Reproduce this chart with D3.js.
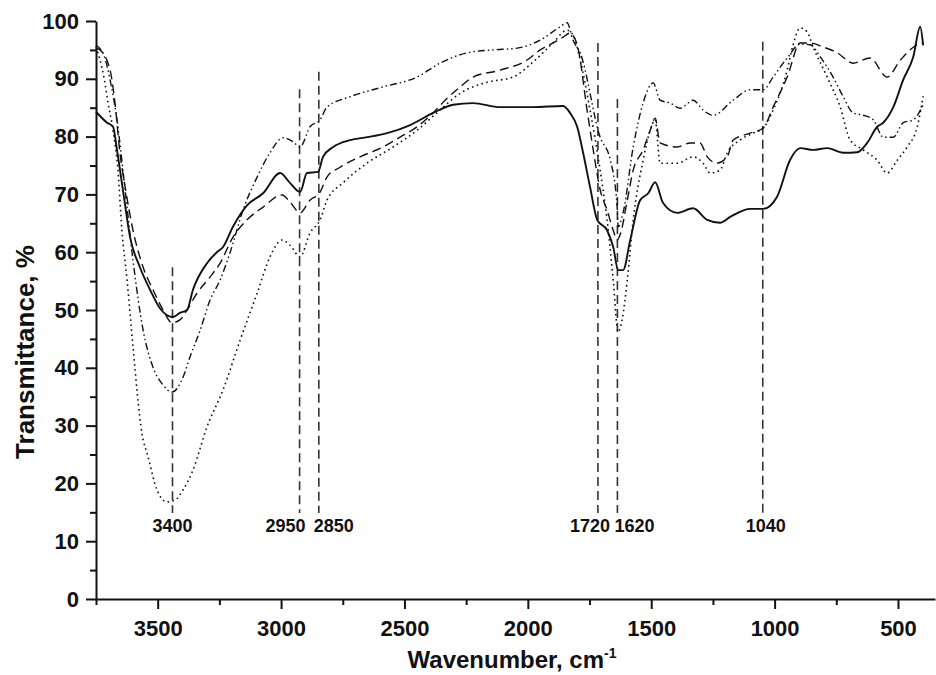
<!DOCTYPE html>
<html><head><meta charset="utf-8">
<script src="https://cdn.jsdelivr.net/npm/d3@7/dist/d3.min.js"></script>
<style>
body{margin:0;background:#fff;}
svg{display:block;}
text{font-family:"Liberation Sans",Arial,sans-serif;font-weight:bold;fill:#111;}
</style>
</head><body>
<svg id="chart" width="936" height="675"></svg>
<script>
// ---- data (wavenumber cm-1, transmittance %) ----
const solidSeries = [[3750,84.3],[3705,82.4],[3681,81.7],[3665,77.7],[3641,70.8],[3612,62.6],[3572,57.4],[3531,53.5],[3491,50.3],[3462,49.1],[3438,48.8],[3410,49.5],[3381,50.0],[3357,53.5],[3300,58.1],[3260,60.0],[3235,60.9],[3195,64.4],[3138,68.1],[3073,70.2],[3004,73.7],[2964,72.0],[2923,70.4],[2895,73.7],[2850,73.9],[2830,76.5],[2789,78.2],[2720,79.4],[2651,79.9],[2570,80.6],[2477,82.0],[2384,84.1],[2303,85.5],[2222,85.8],[2112,85.1],[1979,85.1],[1857,85.3],[1829,84.1],[1800,81.7],[1776,77.2],[1748,71.3],[1719,65.6],[1679,63.8],[1654,60.9],[1634,56.9],[1614,56.9],[1585,62.1],[1545,69.0],[1512,70.2],[1484,72.1],[1452,68.5],[1395,66.8],[1330,67.6],[1273,65.6],[1221,65.1],[1180,66.1],[1099,67.5],[1046,67.5],[990,69.6],[937,76.0],[896,78.0],[844,77.7],[787,78.0],[722,77.2],[665,77.3],[625,78.9],[584,81.7],[560,82.4],[519,85.1],[479,89.8],[438,93.8],[410,99.0],[398,95.8]];

const dashSeries = [[3750,95.3],[3734,95.0],[3693,91.5],[3673,85.8],[3653,77.2],[3632,71.3],[3600,63.8],[3559,57.4],[3519,53.5],[3478,50.0],[3442,47.8],[3410,48.3],[3381,50.0],[3341,52.9],[3288,55.7],[3247,58.1],[3195,62.6],[3138,65.6],[3073,67.8],[2996,69.9],[2964,68.7],[2923,66.8],[2883,69.0],[2842,70.4],[2814,73.0],[2761,74.7],[2680,76.5],[2587,78.2],[2518,79.9],[2449,81.7],[2384,84.1],[2335,86.3],[2274,88.6],[2222,90.3],[2112,91.5],[2003,93.25],[1950,95.0],[1898,96.2],[1857,97.2],[1829,97.9],[1800,95.9],[1760,84.6],[1735,77.7],[1707,70.8],[1679,67.3],[1654,63.8],[1638,62.1],[1626,63.0],[1597,69.0],[1573,74.2],[1533,77.7],[1504,81.1],[1484,83.2],[1464,78.9],[1395,78.2],[1342,78.9],[1302,78.9],[1273,76.5],[1233,75.4],[1192,76.5],[1168,79.4],[1099,80.6],[1046,81.5],[1006,85.1],[949,90.3],[896,96.2],[856,96.2],[803,95.5],[746,94.5],[682,92.7],[613,93.6],[544,90.3],[491,93.2],[422,95.9],[402,96.2]];

const dashDotSeries = [[3750,95.8],[3718,94.1],[3693,89.8],[3665,82.9],[3632,70.8],[3600,58.6],[3559,46.5],[3519,40.1],[3478,37.0],[3442,35.8],[3397,38.4],[3369,41.9],[3328,46.5],[3288,51.7],[3247,55.2],[3207,59.9],[3154,67.3],[3097,73.0],[3045,77.2],[2992,79.8],[2951,79.1],[2923,78.2],[2883,81.7],[2842,82.9],[2814,85.1],[2720,86.9],[2587,88.6],[2449,90.3],[2356,92.7],[2246,94.5],[2141,95.0],[2043,95.3],[1950,96.7],[1869,99.0],[1841,99.7],[1817,96.7],[1788,94.5],[1707,79.9],[1666,76.0],[1638,67.8],[1634,64.4],[1614,66.8],[1573,78.2],[1533,85.8],[1492,89.3],[1464,86.3],[1423,85.8],[1382,84.9],[1330,86.3],[1290,84.6],[1249,83.7],[1168,86.3],[1099,88.1],[1046,88.1],[1006,90.3],[949,93.6],[896,96.0],[856,95.9],[815,93.8],[763,90.3],[722,86.9],[682,84.1],[641,83.7],[600,82.9],[560,79.9],[519,79.9],[479,82.4],[438,82.9],[398,85.5]];

const dottedSeries = [[3750,95.5],[3734,93.3],[3718,90.3],[3701,85.8],[3681,81.1],[3661,74.2],[3645,63.8],[3624,55.2],[3600,43.6],[3564,28.7],[3539,24.6],[3503,18.9],[3462,16.8],[3430,17.1],[3397,18.9],[3357,22.3],[3300,29.8],[3235,36.2],[3166,44.8],[3097,52.9],[3045,59.2],[2996,62.1],[2964,61.2],[2923,59.2],[2883,63.3],[2842,65.6],[2814,69.0],[2749,72.0],[2652,75.4],[2546,78.2],[2449,81.1],[2356,84.6],[2274,87.5],[2165,89.4],[2060,90.3],[1979,92.9],[1898,96.2],[1841,98.4],[1817,97.6],[1788,93.3],[1748,84.6],[1707,74.2],[1679,65.6],[1654,55.2],[1634,46.2],[1618,48.3],[1597,55.2],[1573,65.6],[1533,75.9],[1504,81.1],[1484,82.9],[1464,75.4],[1395,75.4],[1330,76.5],[1290,75.4],[1261,73.7],[1221,74.2],[1192,77.2],[1140,79.4],[1087,80.6],[1046,81.5],[1006,84.6],[949,91.5],[925,95.9],[896,98.8],[868,98.1],[844,95.5],[787,90.3],[734,85.1],[694,79.4],[641,77.7],[584,75.9],[544,73.7],[503,75.9],[463,78.2],[422,81.7],[398,87.0]];

// peak marker lines
const peakLabels = ["3400","2950","2850","1720","1620","1040"];
const peakWavenumbers = [3440,2925,2847,1716,1637,1048];
const peakTops = [57.4,88.2,91.2,96.2,86.5,96.4];
const peakBottom = 14.9;

// axis ticks
const xMajorTicks = [3500,3000,2500,2000,1500,1000,500];
const xMinorTicks = [3750,3250,2750,2250,1750,1250,750];
const yMajorTicks = [0,10,20,30,40,50,60,70,80,90,100];
const yMinorTicks = [5,15,25,35,45,55,65,75,85,95];

// ---- layout / style ----
const svg = d3.select("#chart");
const x = d3.scaleLinear().domain([3750, 350]).range([96, 935]);
const y = d3.scaleLinear().domain([0, 100]).range([599, 21]);
const labelDx = [0,-14,15,-8,17,3];

const seriesStyles = [
  {data: dashDotSeries, dash: "7,3,1.5,3,1.5,3", width: 1.4},
  {data: dottedSeries, dash: "1.6,3.4", width: 1.6},
  {data: dashSeries, dash: "9,5", width: 1.4},
  {data: solidSeries, dash: null, width: 1.9}
];

const line = d3.line().x(d => x(d[0])).y(d => y(d[1])).curve(d3.curveMonotoneX);

// peak marker lines
const pk = svg.append("g");
peakLabels.forEach((lab, i) => {
  pk.append("line")
    .attr("x1", x(peakWavenumbers[i])).attr("x2", x(peakWavenumbers[i]))
    .attr("y1", y(peakTops[i])).attr("y2", y(peakBottom))
    .attr("stroke", "#333").attr("stroke-width", 1.6)
    .attr("stroke-dasharray", "9,5");
  pk.append("text")
    .attr("x", x(peakWavenumbers[i]) + labelDx[i]).attr("y", 531.5)
    .attr("text-anchor", "middle").attr("font-size", 18)
    .text(lab);
});

// curves
seriesStyles.forEach(s => {
  svg.append("path").datum(s.data)
    .attr("d", line).attr("fill", "none")
    .attr("stroke", "#111").attr("stroke-width", s.width)
    .attr("stroke-dasharray", s.dash)
    .attr("stroke-linejoin", "round");
});

// axes
svg.append("g").attr("transform", "translate(0,599)")
  .call(d3.axisBottom(x).tickValues(xMajorTicks).tickSize(10).tickSizeOuter(0).tickPadding(11).tickFormat(d3.format("d")));
const xMinor = svg.append("g").attr("transform", "translate(0,599)")
  .call(d3.axisBottom(x).tickValues(xMinorTicks).tickSize(6).tickSizeOuter(0).tickFormat(""));
xMinor.select(".domain").remove();

svg.append("g").attr("transform", "translate(96,0)")
  .call(d3.axisLeft(y).tickValues(yMajorTicks).tickSize(10).tickSizeOuter(0).tickPadding(7).tickFormat(d3.format("d")));
const yMinor = svg.append("g").attr("transform", "translate(96,0)")
  .call(d3.axisLeft(y).tickValues(yMinorTicks).tickSize(6).tickSizeOuter(0).tickFormat(""));
yMinor.select(".domain").remove();

svg.selectAll(".domain").attr("stroke", "#111").attr("stroke-width", 2);
svg.selectAll(".tick line").attr("stroke", "#111").attr("stroke-width", 2);
svg.selectAll(".tick text").attr("font-size", 22).attr("font-family", "Liberation Sans, Arial, sans-serif")
  .attr("font-weight", "bold").attr("fill", "#111");

// axis titles
const xt = svg.append("text").attr("x", 512).attr("y", 668)
  .attr("text-anchor", "middle").attr("font-size", 24);
xt.append("tspan").text("Wavenumber, cm");
xt.append("tspan").attr("dy", -10).attr("font-size", 14).text("-1");

svg.append("text")
  .attr("transform", "translate(34,352) rotate(-90)")
  .attr("text-anchor", "middle").attr("font-size", 26)
  .text("Transmittance, %");
</script>
</body></html>
